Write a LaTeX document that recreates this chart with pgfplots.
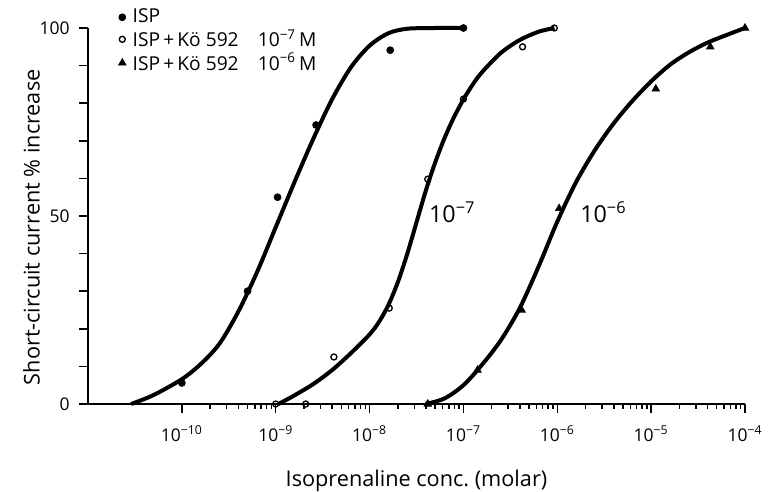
\documentclass[border=0pt]{standalone}
\usepackage{fontspec}
\setmainfont{Open Sans}
\usepackage{pgfplots}
\pgfplotsset{compat=1.18}

\begin{document}
\begin{tikzpicture}[font=\fontsize{10}{12}\selectfont]
\useasboundingbox (-52.8pt,-52.2pt) rectangle (412.8pt,242.4pt);
\begin{axis}[
    at={(0pt,0pt)}, anchor=south west,
    scale only axis, width=394.2pt, height=225.6pt,
    xmode=log, xmin=1e-11, xmax=1e-4,
    ymin=0, ymax=100,
    axis x line=bottom, axis y line=left,
    axis line style={-, line width=0.9pt},
    tick align=outside, major tick length=5.5pt,
    tick style={line width=0.9pt, black},
    xtick={1e-10,1e-9,1e-8,1e-7,1e-6,1e-5,1e-4},
    xticklabels={10\textsuperscript{−10},10\textsuperscript{−9},10\textsuperscript{−8},10\textsuperscript{−7},10\textsuperscript{−6},10\textsuperscript{−5},10\textsuperscript{−4}},
    minor xtick={},
    ytick={0,10,20,30,40,50,60,70,80,90,100},
    yticklabels={0,,,,,50,,,,,100},
    tick label style={font=\fontsize{10.5}{12}\selectfont},
    xticklabel style={yshift=-4pt},
    yticklabel style={xshift=-2pt},
    xlabel={Isoprenaline conc.\ (molar)},
    ylabel={Short-circuit current \% increase},
    label style={font=\fontsize{13}{15}\selectfont},
    xlabel style={at={(axis description cs:0.5,-0.205)}, anchor=center},
    ylabel style={at={(axis description cs:-0.086,0.47)}, anchor=center},
    clip=false,
    legend style={draw=none, fill=none, inner sep=0pt, at={(0.046,1.06)}, anchor=north west,
        row sep=-1.5pt, column sep=2pt, font=\fontsize{11.5}{13.8}\selectfont},
    legend cell align=left,
]
% fitted curves
\addplot[forget plot, black, line width=2.4pt, smooth] coordinates {
    (2.884e-11,0)(5.012e-11,2.4)(1e-10,6.6)(1.585e-10,10.6)(2.512e-10,16)(3.981e-10,24.5)
    (6.310e-10,35)(1e-9,47)(1.585e-9,59)(2.512e-9,70.5)(3.981e-9,81)(6.310e-9,89.5)
    (1e-8,95.3)(1.585e-8,98.6)(2.512e-8,99.8)(5e-8,100)(1e-7,100)
};
\addplot[forget plot, black, line width=2.4pt, smooth] coordinates {
    (1.072e-9,0)(1.585e-9,2.3)(2.512e-9,5.3)(3.981e-9,9)(6.310e-9,13.5)(1e-8,18.5)
    (1.259e-8,21.8)(1.585e-8,26.3)(1.995e-8,32.3)(2.512e-8,39.8)(3.162e-8,48.3)(3.981e-8,56.8)
    (5.012e-8,64.3)(6.310e-8,70.8)(7.943e-8,76.3)(1e-7,81)(1.259e-7,85)(1.585e-7,88.3)
    (2.512e-7,93.4)(3.981e-7,96.8)(6.310e-7,99)(9.333e-7,100)
};
\addplot[forget plot, black, line width=2.4pt, smooth] coordinates {
    (3.981e-8,0)(6.310e-8,1.5)(1e-7,5)(1.585e-7,10.5)(2.512e-7,17)(3.981e-7,25.5)
    (6.310e-7,36.5)(1e-6,48.5)(1.585e-6,59)(2.512e-6,67.5)(3.981e-6,74.6)(6.310e-6,80.6)
    (1e-5,85.8)(1.585e-5,90.2)(2.512e-5,93.5)(3.981e-5,96.1)(6.310e-5,98.1)(1e-4,100)
};
% measured points
\addplot[only marks, mark=*, mark size=2.1pt, black] coordinates {
    (1e-10,5.6)(5.012e-10,30)(1.047e-9,55)(2.692e-9,74.2)(1.660e-8,94.1)(1e-7,100)
};
\addlegendentry{ISP}
\addplot[only marks, mark=o, mark size=1.8pt, black, line width=0.8pt, fill=white] coordinates {
    (1e-9,0)(2.089e-9,0)(4.169e-9,12.5)(1.622e-8,25.5)(4.169e-8,59.8)(1e-7,81.1)(4.266e-7,95)(9.3e-7,100)
};
\addlegendentry{ISP\,+\,Kö 592\quad 10\textsuperscript{−7}\,M}
\addplot[only marks, mark=triangle*, mark size=2.6pt, black] coordinates {
    (4.169e-8,0)(1.413e-7,9)(4.169e-7,25)(1.047e-6,52)(1.122e-5,83.8)(4.266e-5,95)(1e-4,100)
};
\addlegendentry{ISP\,+\,Kö 592\quad 10\textsuperscript{−6}\,M}
\node[font=\fontsize{14}{16}\selectfont] at (axis cs:7.6e-8,51) {10\textsuperscript{−7}};
\node[font=\fontsize{14}{16}\selectfont] at (axis cs:3.1e-6,51) {10\textsuperscript{−6}};
\end{axis}
\end{tikzpicture}
\end{document}
